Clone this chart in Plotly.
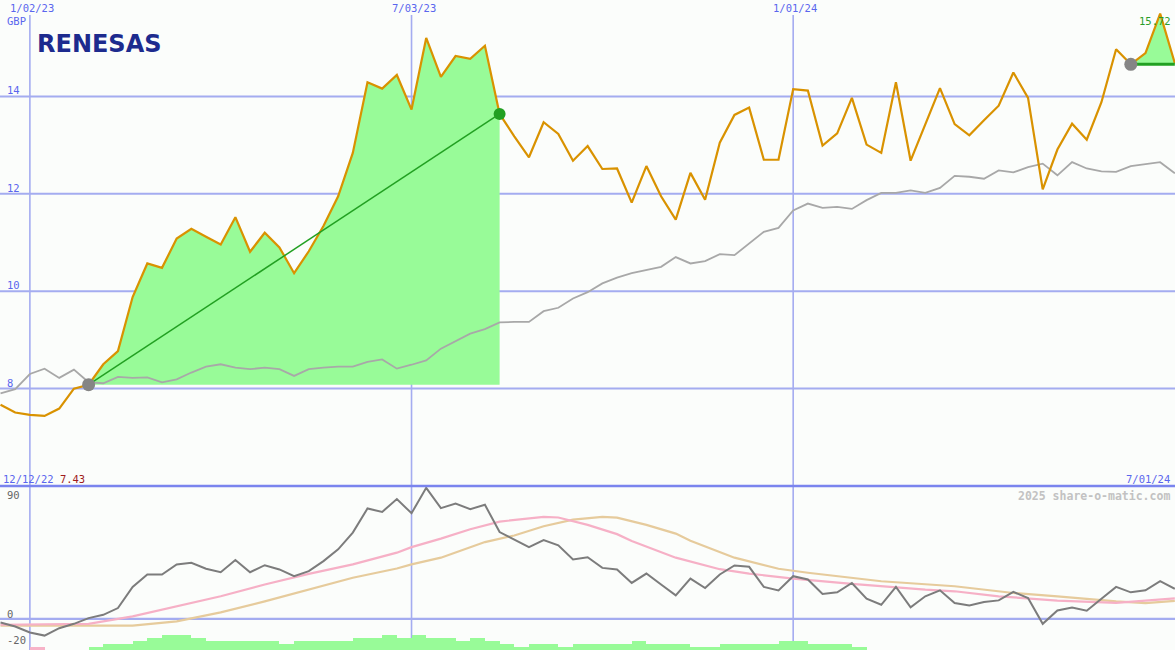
import pandas as pd
import plotly.graph_objects as go

# ---------------- data ----------------
weeks = pd.date_range("2022-12-19", periods=81, freq="7D")

close = [7.67, 7.51, 7.46, 7.44, 7.59, 8.00, 8.08, 8.50, 8.77, 9.88,
         10.57, 10.48, 11.08, 11.28, 11.12, 10.96, 11.52, 10.81, 11.20, 10.90,
         10.37, 10.82, 11.34, 11.95, 12.84, 14.29, 14.16, 14.44, 13.73, 15.20,
         14.40, 14.83, 14.77, 15.04, 13.64, 13.18, 12.75, 13.47, 13.23, 12.68,
         12.98, 12.51, 12.52, 11.82, 12.57, 11.95, 11.47, 12.43, 11.88, 13.05,
         13.62, 13.77, 12.70, 12.70, 14.15, 14.12, 12.99, 13.24, 13.97, 13.01,
         12.84, 14.29, 12.68, 13.43, 14.17, 13.43, 13.20, 13.51, 13.81, 14.49,
         13.97, 12.09, 12.91, 13.44, 13.11, 13.88, 14.97, 14.66, 14.89, 15.70, 14.68]

relative = [7.90, 7.99, 8.30, 8.41, 8.22, 8.39, 8.13, 8.11, 8.24, 8.22,
            8.23, 8.13, 8.19, 8.33, 8.45, 8.50, 8.43, 8.40, 8.43, 8.40,
            8.26, 8.40, 8.43, 8.45, 8.45, 8.55, 8.60, 8.41, 8.49, 8.58,
            8.82, 8.98, 9.13, 9.22, 9.36, 9.37, 9.37, 9.59, 9.66, 9.85,
            9.98, 10.16, 10.28, 10.37, 10.43, 10.50, 10.70, 10.57, 10.62, 10.76,
            10.74, 10.98, 11.22, 11.30, 11.66, 11.80, 11.71, 11.73, 11.69, 11.87,
            12.02, 12.02, 12.07, 12.02, 12.12, 12.37, 12.35, 12.31, 12.48, 12.44,
            12.55, 12.62, 12.38, 12.65, 12.52, 12.46, 12.45, 12.57, 12.61, 12.65, 12.42]

momentum = [-2.8, -5.8, -10.4, -12.7, -7.1, -3.8, 0.5, 3.0, 8.1, 24.1,
            33.5, 33.5, 41.1, 42.3, 37.8, 35.2, 44.4, 35.2, 40.5, 37.3,
            32.2, 36.0, 43.6, 52.5, 65.2, 83.4, 80.8, 90.5, 79.8, 99.0,
            83.7, 87.2, 82.9, 86.2, 65.6, 60.1, 54.2, 59.5, 55.5, 44.9,
            46.5, 38.5, 37.3, 27.1, 34.2, 25.9, 17.7, 30.4, 23.3, 33.5,
            40.3, 39.3, 24.1, 21.5, 32.2, 29.7, 18.8, 20.0, 27.1, 15.2,
            10.6, 24.1, 8.6, 17.0, 21.5, 11.9, 10.1, 12.7, 13.9, 20.3,
            15.7, -3.8, 6.3, 8.6, 6.1, 15.2, 24.1, 20.0, 21.5, 28.4, 22.6]

pink_wk = [0, 6, 9, 12, 15, 18, 21, 24, 27, 28, 30, 32, 34, 37, 38, 40, 42, 43,
           46, 49, 51, 54, 58, 63, 65, 68, 72, 76, 78, 80]
pink_val = [-4.5, -3.8, 1.8, 9.4, 17.0, 25.9, 34.0, 41.1, 50.0, 54.2, 60.6, 67.7,
            73.5, 77.0, 76.6, 71.0, 64.0, 58.8, 46.2, 37.5, 34.2, 30.4, 26.4, 22.0,
            20.8, 17.0, 13.8, 12.0, 13.7, 15.5]

tan_wk = [0, 9, 12, 15, 18, 21, 24, 27, 28, 30, 32, 33, 35, 37, 39, 41, 42, 44,
          46, 47, 50, 53, 55, 60, 65, 69, 72, 76, 78, 80]
tan_val = [-5.1, -5.1, -2.0, 4.8, 13.2, 22.1, 31.0, 38.0, 41.1, 46.2, 53.8, 58.0,
           63.0, 70.0, 75.0, 77.0, 76.5, 71.0, 64.4, 59.0, 46.2, 37.8, 34.8, 28.4,
           24.6, 19.5, 17.0, 13.2, 11.9, 13.5]

hist_level = [0, 0, -1, 0, 0, 0, 1, 2, 2, 3,
              4, 5, 5, 4, 3, 3, 3, 3, 3, 2,
              3, 3, 3, 3, 4, 4, 5, 4, 5, 4,
              4, 3, 4, 3, 2, 1, 2, 2, 1, 2,
              2, 2, 2, 3, 2, 2, 2, 1, 1, 2,
              2, 2, 2, 3, 3, 2, 2, 2, 1, 0,
              0, 0, 0, 0, 0, 0, 0, 0, 0, 0,
              0, 0, 0, 0, 0, 0, 0, 0, 0, 0, 0]

date_ticks = ["2023-01-02", "2023-07-03", "2024-01-01"]
date_tick_text = ["1/02/23", "7/03/23", "1/01/24"]
price_ticks = [8, 10, 12, 14]
mom_ticks = [90, 0, -20]

buy1, sell1 = 6, 34
buy2 = 77

# ---------------- styles ----------------
BG = "#fbfdfb"
GRID = "#a4acf0"
LBL = "#5a66ee"
ORANGE = "#d99200"
GREYL = "#a8a8a8"
FILL = "#98fb98"
GREEN = "#22a022"
MONO = "DejaVu Sans Mono"
W, H = 1175, 650
split = 1 - 486 / H

fig = go.Figure()

# gain area 1
fig.add_trace(go.Scatter(x=weeks[buy1:sell1 + 1], y=[close[buy1]] * (sell1 - buy1 + 1),
                         mode="lines", line=dict(width=0), showlegend=False, hoverinfo="skip"))
fig.add_trace(go.Scatter(x=weeks[buy1:sell1 + 1], y=close[buy1:sell1 + 1], mode="lines",
                         line=dict(width=0), fill="tonexty", fillcolor=FILL,
                         showlegend=False, hoverinfo="skip"))
# gain area 2
fig.add_trace(go.Scatter(x=weeks[buy2:], y=[close[buy2]] * (81 - buy2),
                         mode="lines", line=dict(width=0), showlegend=False, hoverinfo="skip"))
fig.add_trace(go.Scatter(x=weeks[buy2:], y=close[buy2:], mode="lines",
                         line=dict(width=0), fill="tonexty", fillcolor=FILL,
                         showlegend=False, hoverinfo="skip"))

# relative line
fig.add_trace(go.Scatter(x=weeks, y=relative, mode="lines",
                         line=dict(color=GREYL, width=1.8), showlegend=False))
# price line
fig.add_trace(go.Scatter(x=weeks, y=close, mode="lines",
                         line=dict(color=ORANGE, width=2.2), showlegend=False))
# trade line
fig.add_trace(go.Scatter(x=[weeks[buy1], weeks[sell1]], y=[close[buy1], close[sell1]],
                         mode="lines", line=dict(color=GREEN, width=1.5), showlegend=False))
fig.add_trace(go.Scatter(x=[weeks[buy2], weeks[80]], y=[close[buy2], close[buy2]],
                         mode="lines", line=dict(color=GREEN, width=3), showlegend=False))
# markers
fig.add_trace(go.Scatter(x=[weeks[buy1], weeks[buy2]], y=[close[buy1], close[buy2]],
                         mode="markers", marker=dict(color="#858585", size=13),
                         showlegend=False))
fig.add_trace(go.Scatter(x=[weeks[sell1]], y=[close[sell1]], mode="markers",
                         marker=dict(color=GREEN, size=12), showlegend=False))

# ---------------- lower panel ----------------
bar_x = weeks + pd.Timedelta(days=3.5)
bar_colors = ["#f7b3c8" if v < 0 else FILL for v in hist_level]
fig.add_trace(go.Bar(x=bar_x, y=[abs(v) for v in hist_level],
                     marker=dict(color=bar_colors, line=dict(width=0)),
                     width=7 * 86400000, yaxis="y3", showlegend=False, hoverinfo="skip"))
fig.add_trace(go.Scatter(x=[weeks[k] for k in tan_wk], y=tan_val, mode="lines",
                         line=dict(color="#e6cb9c", width=2.2), yaxis="y2", showlegend=False))
fig.add_trace(go.Scatter(x=[weeks[k] for k in pink_wk], y=pink_val, mode="lines",
                         line=dict(color="#f6b0c6", width=2.2), yaxis="y2", showlegend=False))
fig.add_trace(go.Scatter(x=weeks, y=momentum, mode="lines",
                         line=dict(color="#7c7c7c", width=2), yaxis="y2", showlegend=False))

shapes = []
for d in date_ticks:
    shapes.append(dict(type="line", xref="x", yref="paper", x0=d, x1=d, y0=0, y1=1 - 15 / H,
                       line=dict(color=GRID, width=1.6), layer="below"))
for v in price_ticks:
    shapes.append(dict(type="line", xref="paper", yref="y", x0=0, x1=1, y0=v, y1=v,
                       line=dict(color=GRID, width=2), layer="below"))
shapes.append(dict(type="line", xref="paper", yref="y2", x0=0, x1=1, y0=0, y1=0,
                   line=dict(color=GRID, width=2.2), layer="below"))
shapes.append(dict(type="line", xref="paper", yref="paper", x0=0, x1=1, y0=split, y1=split,
                   line=dict(color="#7a84ee", width=2.6)))

ann = []
for d, t in zip(date_ticks, date_tick_text):
    ann.append(dict(x=d, xref="x", y=1 - 8 / H, yref="paper", text=t, showarrow=False,
                    xanchor="center", yanchor="middle", xshift=2,
                    font=dict(family=MONO, size=10.5, color=LBL)))
ann.append(dict(x=5 / W, xref="paper", y=1 - 21 / H, yref="paper", text="GBP", showarrow=False,
                xanchor="left", yanchor="middle", font=dict(family=MONO, size=10.5, color=LBL)))
for v in price_ticks:
    ann.append(dict(x=5 / W, xref="paper", y=v, yref="y", text=str(v), showarrow=False,
                    xanchor="left", yanchor="middle", yshift=6,
                    font=dict(family=MONO, size=10.5, color=LBL)))
for v in mom_ticks:
    ann.append(dict(x=5 / W, xref="paper", y=v, yref="y2", text=str(v), showarrow=False,
                    xanchor="left", yanchor="middle", yshift=5,
                    font=dict(family=MONO, size=10.5, color="#666666")))
ann.append(dict(x=35 / W, xref="paper", y=1 - 44 / H, yref="paper", text="<b>RENESAS</b>",
                showarrow=False, xanchor="left", yanchor="middle",
                font=dict(family="DejaVu Sans", size=24, color="#1d2b8e")))
ann.append(dict(x=1155 / W, xref="paper", y=1 - 21 / H, yref="paper", text="15.72",
                showarrow=False, xanchor="center", yanchor="middle",
                font=dict(family=MONO, size=10.5, color="#2a9d2a")))
ann.append(dict(x=1 / W, xref="paper", y=1 - 479 / H, yref="paper",
                text="12/12/22 <span style='color:#a01c1c'>7.43</span>",
                showarrow=False, xanchor="left", yanchor="middle",
                font=dict(family=MONO, size=10.5, color=LBL)))
ann.append(dict(x=1172 / W, xref="paper", y=1 - 479 / H, yref="paper", text="7/01/24",
                showarrow=False, xanchor="right", yanchor="middle",
                font=dict(family=MONO, size=10.5, color=LBL)))
ann.append(dict(x=1172 / W, xref="paper", y=1 - 496 / H, yref="paper",
                text="<b>2025 share-o-matic.com</b>", showarrow=False,
                xanchor="right", yanchor="middle",
                font=dict(family=MONO, size=11.5, color="#c2c2c2")))

fig.update_layout(
    width=W, height=H,
    margin=dict(l=0, r=0, t=0, b=0),
    paper_bgcolor=BG, plot_bgcolor=BG,
    showlegend=False, bargap=0,
    xaxis=dict(range=["2022-12-18 18:00", "2024-07-01 02:00"], visible=False,
               showgrid=False, zeroline=False, anchor="y2"),
    yaxis=dict(domain=[split, 1], range=[6.0, 15.98], visible=False,
               showgrid=False, zeroline=False),
    yaxis2=dict(domain=[0, split], range=[-23.6, 100.4], visible=False,
                showgrid=False, zeroline=False),
    yaxis3=dict(domain=[0, split], range=[0, 53.4], overlaying="y2", visible=False,
                showgrid=False, zeroline=False),
    shapes=shapes, annotations=ann,
)

fig.write_html("out.html", config={"displayModeBar": False},
               post_script="document.body.style.margin='0';document.body.style.padding='0';"
                           "document.body.style.overflow='hidden';")
